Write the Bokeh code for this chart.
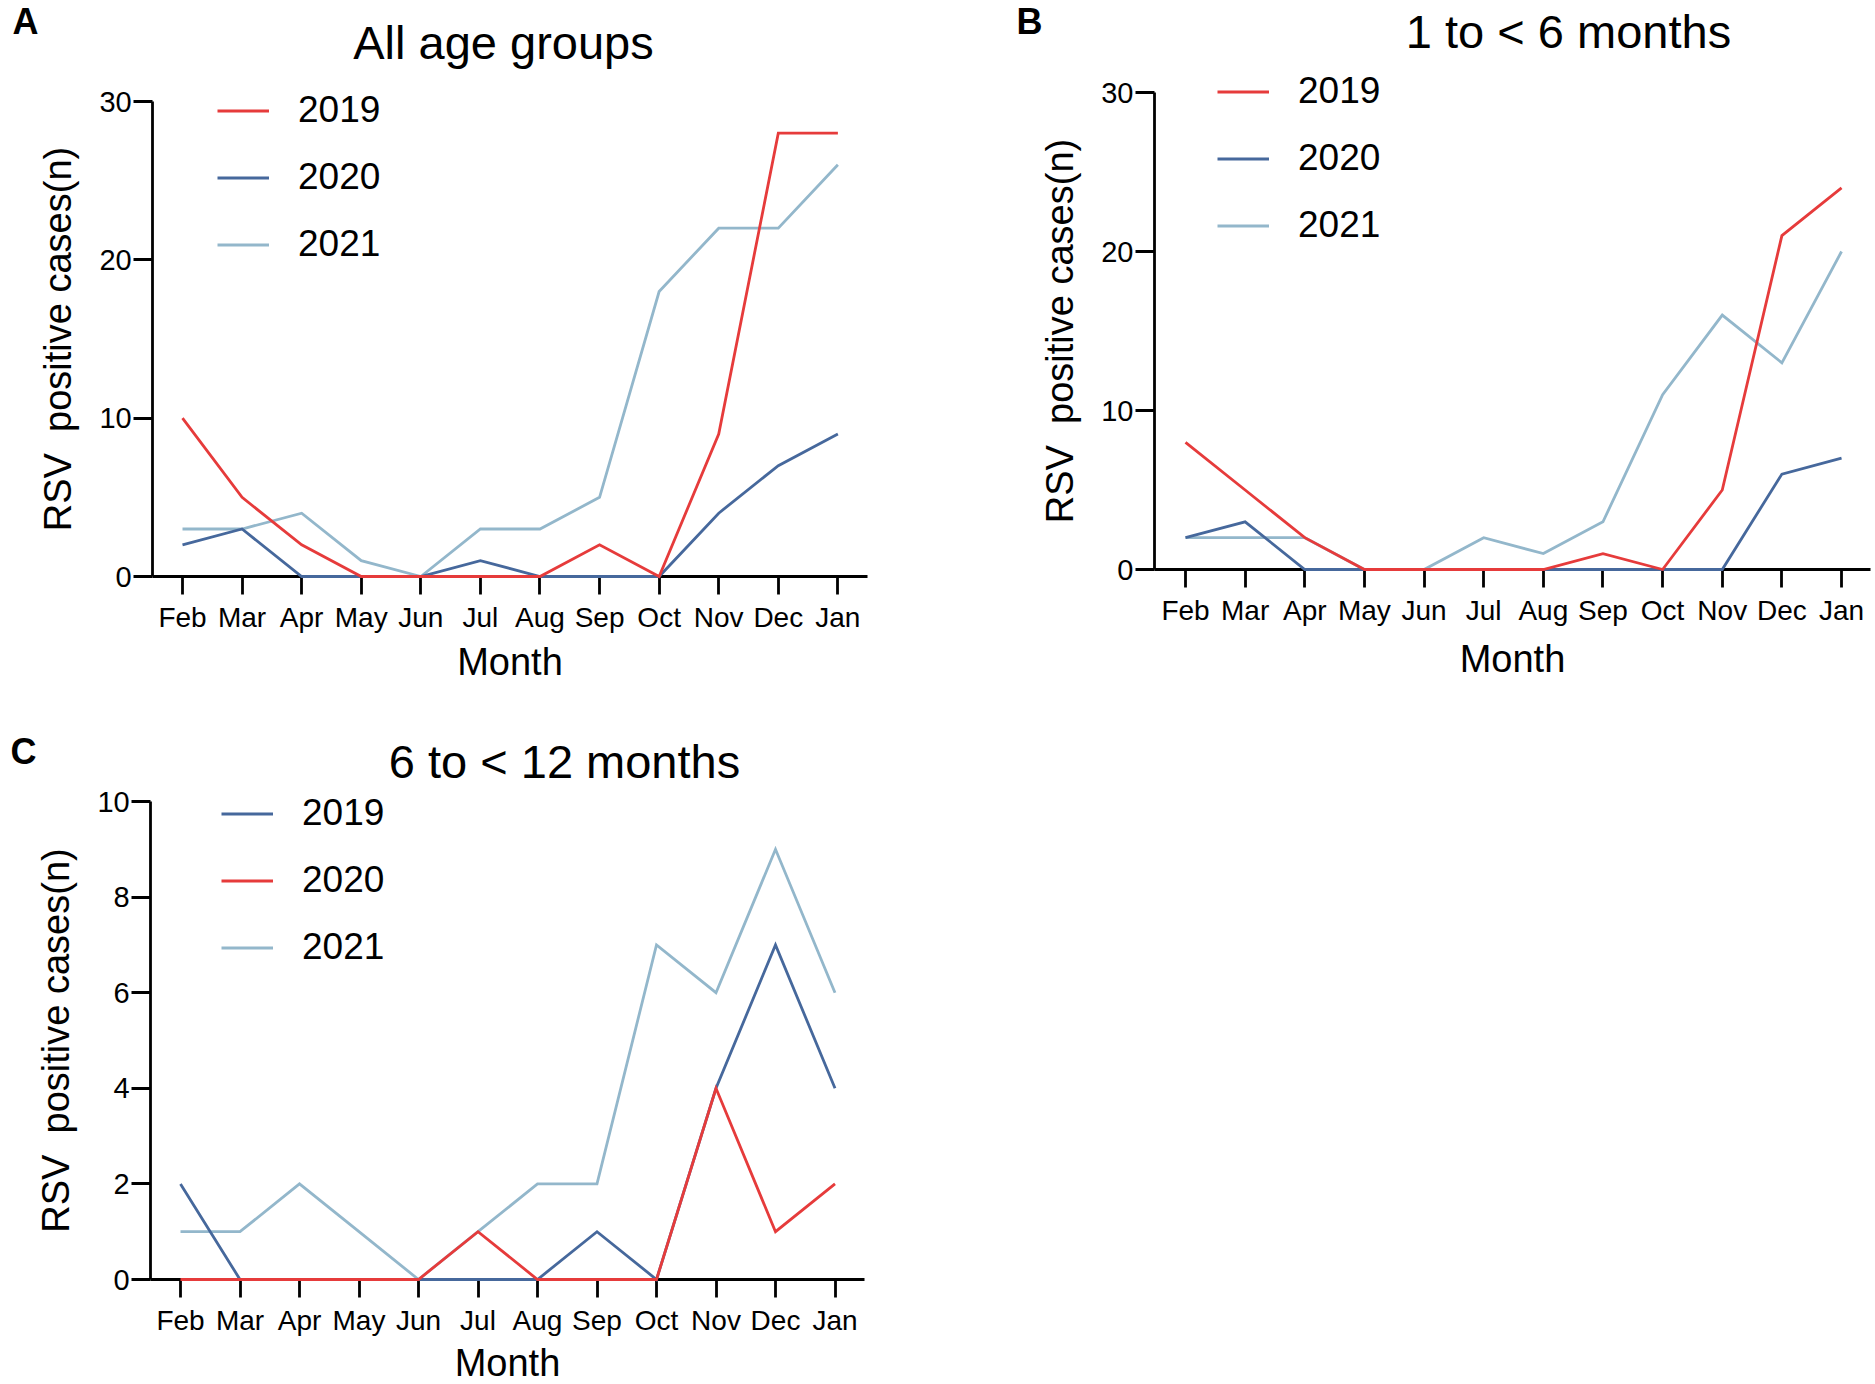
from bokeh.plotting import figure
from bokeh.models import Range1d, FixedTicker, Legend, LegendItem, Label
from bokeh.layouts import column, row
from bokeh.embed import file_html
from bokeh.resources import INLINE

# ---------------- data ----------------
months = ["Feb", "Mar", "Apr", "May", "Jun", "Jul", "Aug", "Sep", "Oct", "Nov", "Dec", "Jan"]
years = ["2019", "2020", "2021"]

all_2019 = [10, 5, 2, 0, 0, 0, 0, 2, 0, 9, 28, 28]
all_2020 = [2, 3, 0, 0, 0, 1, 0, 0, 0, 4, 7, 9]
all_2021 = [3, 3, 4, 1, 0, 3, 3, 5, 18, 22, 22, 26]

m1to6_2019 = [8, 5, 2, 0, 0, 0, 0, 1, 0, 5, 21, 24]
m1to6_2020 = [2, 3, 0, 0, 0, 0, 0, 0, 0, 0, 6, 7]
m1to6_2021 = [2, 2, 2, 0, 0, 2, 1, 3, 11, 16, 13, 20]

m6to12_2019 = [2, 0, 0, 0, 0, 0, 0, 1, 0, 4, 7, 4]
m6to12_2020 = [0, 0, 0, 0, 0, 1, 0, 0, 0, 4, 1, 2]
m6to12_2021 = [1, 1, 2, 1, 0, 1, 2, 2, 7, 6, 9, 6]

yticks_30 = [0, 10, 20, 30]
yticks_10 = [0, 2, 4, 6, 8, 10]

# ---------------- style ----------------
RED = "#E63B3B"
DARK = "#46689C"
LIGHT = "#93B7CB"
FONT = "Liberation Sans"
DRAW_RANK = {LIGHT: 0, DARK: 1, RED: 2}
LABEL_SHIFT = 16  # px correction for Label baseline placement


def make_panel(W, H, feb_px, step_px, zero_px, top_px, y_top, y_ticks, x_lo, x_hi,
               series, letter, letter_px, title, title_px, legend_glyph_left,
               legend_first_row, xaxis_label_standoff):
    # all *_px values are canvas pixels of this figure (origin top-left)
    ppu_y = (zero_px - top_px) / y_top
    x_range = Range1d(-feb_px / step_px, (W - feb_px) / step_px)
    y_range = Range1d(-(H - zero_px) / ppu_y, zero_px / ppu_y)

    p = figure(width=W, height=H, output_backend="svg", toolbar_location=None,
               x_range=x_range, y_range=y_range,
               min_border=0, min_border_left=0, min_border_right=0,
               min_border_top=0, min_border_bottom=0)
    p.outline_line_color = None
    p.xgrid.visible = False
    p.ygrid.visible = False
    p.background_fill_color = "white"
    p.border_fill_color = "white"

    def dx(px):
        return (px - feb_px) / step_px

    def dy(py):
        return (zero_px - py) / ppu_y

    xs = list(range(len(months)))
    renderers = {}
    for lab, vals, col in sorted(series, key=lambda s: DRAW_RANK[s[2]]):
        renderers[lab] = p.line(xs, vals, line_color=col, line_width=2.8, line_join="miter")

    # x axis (crosses the y axis at 0)
    xa = p.xaxis[0]
    xa.fixed_location = 0
    xa.bounds = (x_lo, x_hi)
    xa.level = "underlay"
    xa.ticker = FixedTicker(ticks=xs)
    xa.major_label_overrides = {i: m for i, m in enumerate(months)}
    xa.minor_tick_line_color = None
    xa.major_tick_in = 0
    xa.major_tick_out = 18
    xa.axis_line_width = 2.8
    xa.major_tick_line_width = 2.8
    xa.axis_line_color = "black"
    xa.major_tick_line_color = "black"
    xa.major_label_text_font = FONT
    xa.major_label_text_font_size = "28px"
    xa.major_label_text_color = "black"
    xa.major_label_standoff = 7
    xa.axis_label = "Month"
    xa.axis_label_text_font = FONT
    xa.axis_label_text_font_size = "38px"
    xa.axis_label_text_font_style = "normal"
    xa.axis_label_text_color = "black"
    xa.axis_label_standoff = xaxis_label_standoff

    # y axis (at the left end of the x axis)
    ya = p.yaxis[0]
    ya.fixed_location = x_lo
    ya.bounds = (0, y_top)
    ya.level = "underlay"
    ya.ticker = FixedTicker(ticks=y_ticks)
    ya.minor_tick_line_color = None
    ya.major_tick_in = 0
    ya.major_tick_out = 19
    ya.axis_line_width = 2.8
    ya.major_tick_line_width = 2.8
    ya.axis_line_color = "black"
    ya.major_tick_line_color = "black"
    ya.major_label_text_font = FONT
    ya.major_label_text_font_size = "29px"
    ya.major_label_text_color = "black"
    ya.major_label_standoff = 2
    ya.axis_label = "RSV \u00a0positive cases(n)"
    ya.axis_label_text_font = FONT
    ya.axis_label_text_font_size = "38px"
    ya.axis_label_text_font_style = "normal"
    ya.axis_label_text_color = "black"
    ya.axis_label_standoff = 17

    # legend
    row_h = 43
    spacing = 24
    n = len(series)
    last_center = legend_first_row + (n - 1) * (row_h + spacing)
    loc = (legend_glyph_left, H - (last_center + row_h / 2))
    items = [LegendItem(label=lab, renderers=[renderers[lab]]) for lab, _, _ in series]
    leg = Legend(items=items, location=loc, orientation="vertical",
                 glyph_width=52, glyph_height=row_h, label_height=row_h,
                 spacing=spacing, padding=0, margin=0, label_standoff=29,
                 label_text_font=FONT, label_text_font_size="37px",
                 label_text_color="black", border_line_color=None,
                 background_fill_alpha=0)
    p.add_layout(leg)

    # title and panel letter
    p.add_layout(Label(x=dx(title_px[0]), y=dy(title_px[1] - LABEL_SHIFT), text=title,
                       text_font=FONT, text_font_size="47px", text_color="black",
                       text_align="center", text_baseline="alphabetic"))
    p.add_layout(Label(x=dx(letter_px[0]), y=dy(letter_px[1] - LABEL_SHIFT), text=letter,
                       text_font=FONT, text_font_size="36px", text_font_style="bold",
                       text_color="black", text_align="left", text_baseline="alphabetic"))
    return p


# panel A: canvas (0,0)-(940,712)
pA = make_panel(940, 712, 182, 59.58, 576, 101, 30, yticks_30, -0.5, 11.5,
                [(years[0], all_2019, RED), (years[1], all_2020, DARK), (years[2], all_2021, LIGHT)],
                "A", (12, 37), "All age groups", (503, 58), 217, 110, 5)

# panel B: canvas offset x=940
pB = make_panel(935, 712, 1185 - 940, 59.64, 569, 92, 30, yticks_30, -0.52, 11.49,
                [(years[0], m1to6_2019, RED), (years[1], m1to6_2020, DARK), (years[2], m1to6_2021, LIGHT)],
                "B", (1016 - 940, 37), "1 to < 6 months", (1568 - 940, 47), 1217 - 940, 91, 9)

# panel C: canvas offset y=712
pC = make_panel(940, 672, 180, 59.5, 1279 - 712, 801 - 712, 10, yticks_10, -0.5, 11.5,
                [(years[0], m6to12_2019, DARK), (years[1], m6to12_2020, RED), (years[2], m6to12_2021, LIGHT)],
                "C", (10, 767 - 712), "6 to < 12 months", (564, 777 - 712), 221, 813 - 712, 3)

layout = column(row(pA, pB), pC)
open("out.html", "w").write(file_html(layout, INLINE))
